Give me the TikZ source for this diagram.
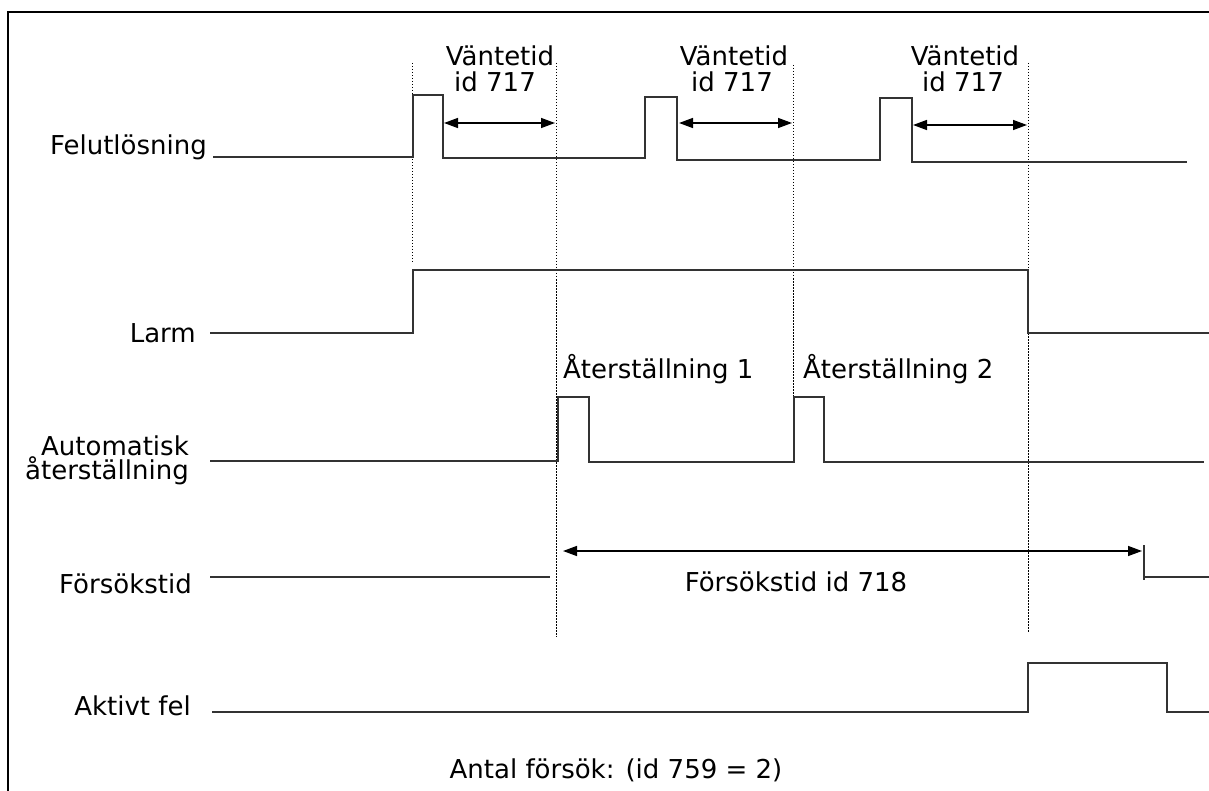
\documentclass[tikz,border=0pt]{standalone}
\usepackage{fontspec}
\setmainfont{DejaVu Sans}
\usetikzlibrary{arrows.meta}
\begin{document}
\begin{tikzpicture}[x=1pt,y=-1pt,
  sig/.style={line width=1.6pt, draw=black!80, line join=miter},
  guide/.style={line width=0.9pt, draw=black, dash pattern=on 1.5pt off 1.5pt},
  dimarrow/.style={line width=1.4pt, {Triangle[length=14pt,width=10pt]}-{Triangle[length=14pt,width=10pt]}},
  lbl/.style={font=\fontsize{26}{30}\selectfont, inner sep=0pt},
]
\useasboundingbox (0,0) rectangle (1209,791);
\draw[line width=1.5pt] (8,791) -- (8,12) -- (1209,12);

% signal names
\node[lbl, anchor=base east] (felut) at (207,155) {Felutlösning};
\node[lbl, anchor=base east] (larm) at (196,342) {Larm};
\node[lbl, anchor=base east] (auto1) at (189,455) {Automatisk};
\node[lbl, anchor=base east] (auto2) at (189,479) {återställning};
\node[lbl, anchor=base east] (forsok) at (192,593) {Försökstid};
\node[lbl, anchor=base east] (aktiv) at (191,715) {Aktivt fel};
\node[lbl, anchor=base] (antal) at (616,778) {Antal försök: (id 759 = 2)};

% wait time labels
\node[lbl, anchor=base] (v1a) at (500,66) {Väntetid};
\node[lbl, anchor=base] (v1b) at (495,92) {id 717};
\node[lbl, anchor=base] (v2a) at (734,66) {Väntetid};
\node[lbl, anchor=base] (v2b) at (732,92) {id 717};
\node[lbl, anchor=base] (v3a) at (965,66) {Väntetid};
\node[lbl, anchor=base] (v3b) at (963,92) {id 717};

\node[lbl, anchor=base west] (r1) at (563,378) {Återställning 1};
\node[lbl, anchor=base west] (r2) at (803,378) {Återställning 2};
\node[lbl, anchor=base] (ft) at (796,591) {Försökstid id 718};

% dotted guides
\draw[guide] (412,63) -- (412,262);
\draw[guide] (556,63) -- (556,637);
\draw[guide] (793,65) -- (793,413);
\draw[guide] (1028,63) -- (1028,632);

% signals
\draw[sig] (213,157) -- (413,157) -- (413,95) -- (443,95) -- (443,158) -- (645,158) -- (645,97) -- (677,97) -- (677,160) -- (880,160) -- (880,98) -- (912,98) -- (912,162) -- (1187,162);
\draw[sig] (210,333) -- (413,333) -- (413,270) -- (1028,270) -- (1028,333) -- (1209,333);
\draw[sig] (210,461) -- (558,461) -- (558,397) -- (589,397) -- (589,462) -- (794,462) -- (794,397) -- (824,397) -- (824,462) -- (1204,462);
\draw[sig] (210,577) -- (550,577);
\draw[sig] (1144,545) -- (1144,580);
\draw[sig] (1144,577) -- (1209,577);
\draw[sig] (212,712) -- (1028,712) -- (1028,663) -- (1167,663) -- (1167,712) -- (1209,712);

% dimension arrows
\draw[dimarrow] (444,123) -- (555,123);
\draw[dimarrow] (679,123) -- (792,123);
\draw[dimarrow] (913,125) -- (1027,125);
\draw[dimarrow] (563,551) -- (1142,551);
\end{tikzpicture}
\end{document}
